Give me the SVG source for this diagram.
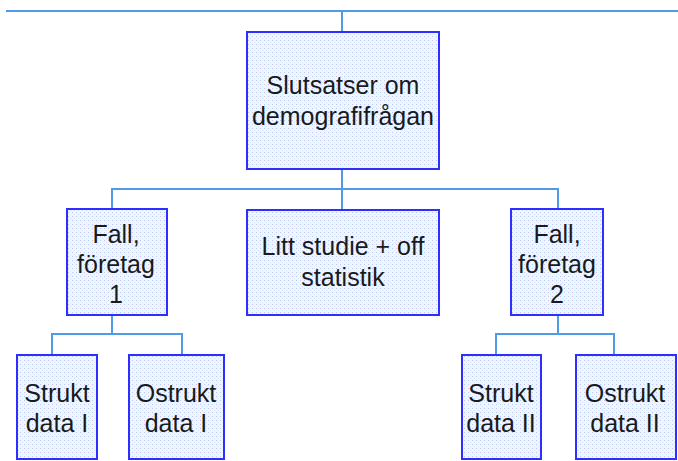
<svg xmlns="http://www.w3.org/2000/svg" width="678" height="461" viewBox="0 0 678 461">
<defs>
<pattern id="dots" width="4" height="4" patternUnits="userSpaceOnUse">
<rect width="4" height="4" fill="#eef7ff"/>
<rect x="0" y="0" width="1" height="1" fill="#c4c4f4"/>
<rect x="2" y="2" width="1" height="1" fill="#d4e8fb"/>
</pattern>
</defs>
<style>
.box{fill:url(#dots);stroke:#2e2eff;stroke-width:2}
.lbl{font-family:"Liberation Sans",Arial,sans-serif;font-size:25px;fill:#1a1a1a;text-anchor:middle}
.con{stroke:#4f9be8;stroke-width:2;fill:none}
</style>
<g id="connectors">
<line class="con" x1="6" y1="11" x2="678" y2="11"/>
<line class="con" x1="342" y1="11" x2="342" y2="31"/>
<line class="con" x1="342" y1="170" x2="342" y2="209"/>
<polyline class="con" points="112,208 112,189 558,189 558,208"/>
<polyline class="con" points="112,316 112,334"/>
<polyline class="con" points="52,354 52,334 182,334 182,354"/>
<polyline class="con" points="558,316 558,334"/>
<polyline class="con" points="496,354 496,334 614,334 614,354"/>
</g>
<g id="slutsatser">
<rect class="box" x="247" y="32" width="192" height="137"/>
<text class="lbl" x="343" y="94">Slutsatser om</text>
<text class="lbl" x="343" y="125">demografifrågan</text>
</g>
<g id="fall1">
<rect class="box" x="67" y="209" width="100" height="106"/>
<text class="lbl" x="116" y="243">Fall,</text>
<text class="lbl" x="116" y="273">företag</text>
<text class="lbl" x="116" y="303">1</text>
</g>
<g id="litt">
<rect class="box" x="247" y="210" width="192" height="105"/>
<text class="lbl" x="343" y="255">Litt studie + off</text>
<text class="lbl" x="343" y="286">statistik</text>
</g>
<g id="fall2">
<rect class="box" x="511" y="209" width="92" height="106"/>
<text class="lbl" x="557" y="243">Fall,</text>
<text class="lbl" x="557" y="273">företag</text>
<text class="lbl" x="557" y="303">2</text>
</g>
<g id="strukt1">
<rect class="box" x="17" y="355" width="80" height="104"/>
<text class="lbl" x="57" y="402">Strukt</text>
<text class="lbl" x="57" y="432">data I</text>
</g>
<g id="ostrukt1">
<rect class="box" x="129" y="355" width="95" height="104"/>
<text class="lbl" x="176" y="402">Ostrukt</text>
<text class="lbl" x="176" y="432">data I</text>
</g>
<g id="strukt2">
<rect class="box" x="462" y="355" width="79" height="104"/>
<text class="lbl" x="501" y="402">Strukt</text>
<text class="lbl" x="501" y="432">data II</text>
</g>
<g id="ostrukt2">
<rect class="box" x="576" y="355" width="100" height="104"/>
<text class="lbl" x="625" y="402">Ostrukt</text>
<text class="lbl" x="625" y="432">data II</text>
</g>
</svg>
